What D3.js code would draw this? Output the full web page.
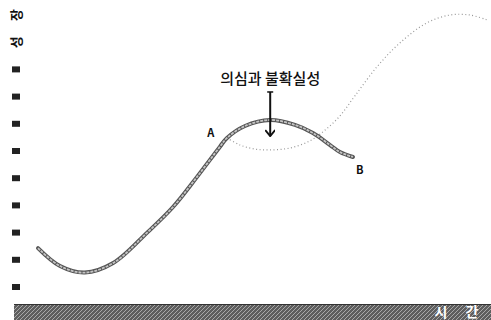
<!DOCTYPE html>
<meta charset="utf-8">
<style>
body { margin: 0; background: #fff; }
text { font-family: "Noto Sans CJK KR", "Noto Sans", sans-serif; }
</style>
<body>
<script src="https://d3js.org/d3.v7.min.js"></script>
<script>

// growth curve up to the branch point A, then branch B (decline)
var mainT = [0, 4.9, 10.4, 16.7, 24.2, 30, 35.3, 40.4, 42, 46, 51.6, 57.1, 61.1, 64.9, 67.1, 70];
var mainG = [14.3, 7.7, 5.3, 8.8, 19.9, 29.4, 40.4, 51.5, 54.8, 59.2, 61.4, 59.6, 56.6, 52.2, 49.6, 47.8];

// dotted alternative path from A (dip, then renewed growth)
var altT = [42, 44.9, 48.2, 51.6, 56, 60.4, 63.8, 67.1, 70.4, 75.3, 80.4, 86.4, 91.6, 96, 99.8];
var altG = [54.8, 52.2, 50.7, 50.4, 51.1, 53.7, 57.7, 62.9, 70.2, 80.9, 89.7, 97.1, 100, 100, 98.2];

var yMarks = [0, 10, 20, 30, 40, 50, 60, 70, 80];
var yLabels = [{v: 90, t: "성"}, {v: 100, t: "장"}];
var xLabels = ["시", "간"];
var note = "의심과 불확실성";

var width = 491, height = 320;

var svg = d3.select("body").append("svg")
    .attr("width", width)
    .attr("height", height);

var x = d3.scaleLinear().domain([0, 100]).range([38, 488]);
var y = d3.scaleLinear().domain([0, 100]).range([287, 15]);

var defs = svg.append("defs");
var pat = defs.append("pattern")
    .attr("id", "hatch")
    .attr("width", 4).attr("height", 4)
    .attr("patternUnits", "userSpaceOnUse");
pat.append("rect").attr("width", 4).attr("height", 4).attr("fill", "#5e5e5e");
pat.append("path").attr("d", "M0,4L4,0M-1,1L1,-1M3,5L5,3")
    .attr("stroke", "#a8a8a8").attr("stroke-width", 1);

defs.append("marker")
    .attr("id", "arrow")
    .attr("viewBox", "0 0 10 10")
    .attr("refX", 9).attr("refY", 5)
    .attr("markerWidth", 10).attr("markerHeight", 10)
    .attr("markerUnits", "userSpaceOnUse")
    .attr("orient", "auto")
  .append("path")
    .attr("d", "M3,0L9,5L3,10")
    .attr("fill", "none")
    .attr("stroke", "#111")
    .attr("stroke-width", 2);

var line = d3.line()
    .x(function(d) { return x(d[0]); })
    .y(function(d) { return y(d[1]); })
    .curve(d3.curveCatmullRom);

var mainData = mainT.map(function(t, i) { return [t, mainG[i]]; });
var altData = altT.map(function(t, i) { return [t, altG[i]]; });

// dotted path
svg.append("path")
    .datum(altData)
    .attr("d", line)
    .attr("fill", "none")
    .attr("stroke", "#999")
    .attr("stroke-width", 1.2)
    .attr("stroke-dasharray", "1,2.5");

// main solid curve: dark outline, light core
svg.append("path")
    .datum(mainData)
    .attr("d", line)
    .attr("fill", "none")
    .attr("stroke", "#555")
    .attr("stroke-width", 4)
    .attr("stroke-linecap", "round");
svg.append("path")
    .datum(mainData)
    .attr("d", line)
    .attr("fill", "none")
    .attr("stroke", "#c4c4c4")
    .attr("stroke-width", 1.8)
    .attr("stroke-dasharray", "3,1");

// y axis marks
svg.append("g").selectAll("rect")
    .data(yMarks)
  .enter().append("rect")
    .attr("x", 12)
    .attr("y", function(d) { return y(d) - 3; })
    .attr("width", 8)
    .attr("height", 6)
    .attr("fill", "#222");

svg.append("g").selectAll("text")
    .data(yLabels)
  .enter().append("text")
    .attr("transform", function(d) { return "translate(16," + y(d.v) + ") rotate(-90)"; })
    .attr("text-anchor", "middle")
    .attr("dy", "0.35em")
    .attr("font-size", 13)
    .attr("font-weight", "bold")
    .attr("fill", "#111")
    .text(function(d) { return d.t; });

// x axis band
svg.append("rect")
    .attr("x", 14).attr("y", 304)
    .attr("width", width - 14).attr("height", 16)
    .attr("fill", "url(#hatch)");
svg.append("line")
    .attr("x1", 14).attr("x2", width)
    .attr("y1", 304.5).attr("y2", 304.5)
    .attr("stroke", "#333");

svg.append("g").selectAll("text")
    .data(xLabels)
  .enter().append("text")
    .attr("x", function(d, i) { return 441 + i * 31; })
    .attr("y", 317)
    .attr("text-anchor", "middle")
    .attr("font-size", 14)
    .attr("font-weight", "bold")
    .attr("fill", "#fff")
    .text(function(d) { return d; });

// annotation
var noteT = 51.6;
svg.append("text")
    .attr("x", x(noteT))
    .attr("y", 84)
    .attr("text-anchor", "middle")
    .attr("font-size", 15)
    .attr("font-weight", 500)
    .attr("fill", "#111")
    .text(note);

svg.append("line")
    .attr("x1", x(noteT)).attr("x2", x(noteT))
    .attr("y1", y(71.7)).attr("y2", y(55.5))
    .attr("stroke", "#111")
    .attr("stroke-width", 2)
    .attr("marker-end", "url(#arrow)");
svg.append("line")
    .attr("x1", x(noteT) - 3).attr("x2", x(noteT) + 3)
    .attr("y1", y(71.7)).attr("y2", y(71.7))
    .attr("stroke", "#111")
    .attr("stroke-width", 1.5);

svg.append("text")
    .attr("x", x(38.4)).attr("y", y(55))
    .attr("text-anchor", "middle")
    .attr("font-size", 11)
    .attr("font-weight", "bold")
    .attr("fill", "#111")
    .text("A");
svg.append("text")
    .attr("x", x(71.5)).attr("y", y(41.5))
    .attr("text-anchor", "middle")
    .attr("font-size", 11)
    .attr("font-weight", "bold")
    .attr("fill", "#111")
    .text("B");

</script>
